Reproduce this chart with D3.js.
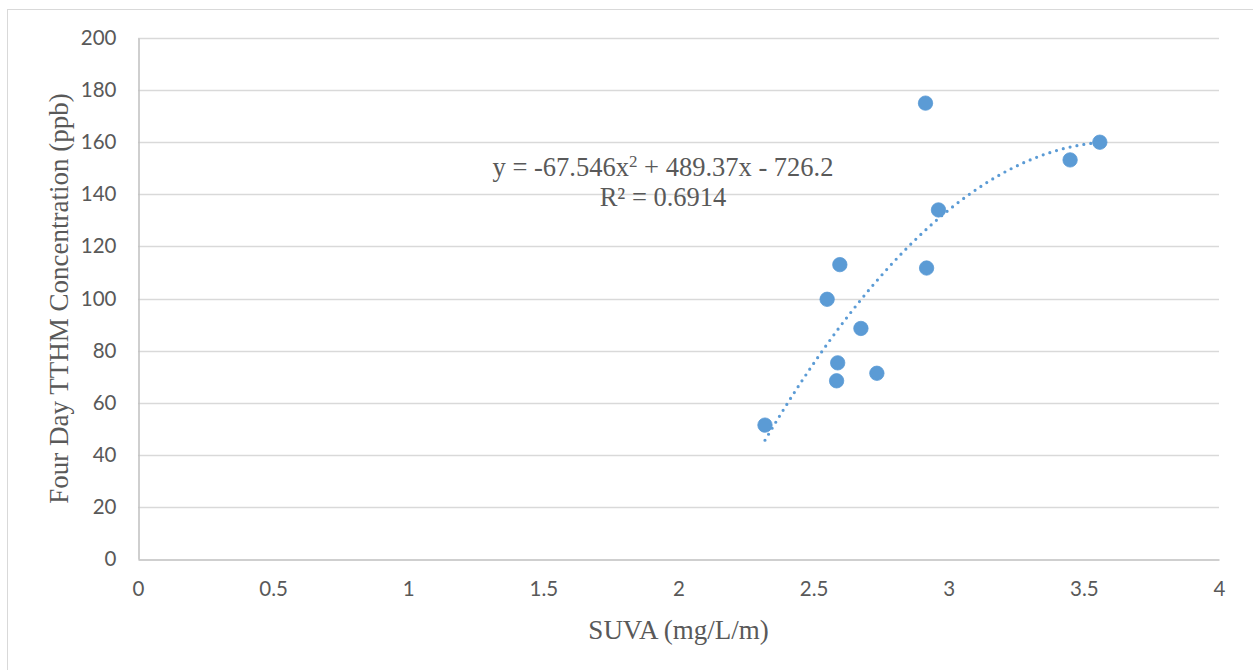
<!DOCTYPE html>
<html>
<head>
<meta charset="utf-8">
<script src="https://cdn.jsdelivr.net/npm/d3@7"></script>
<style>
  html, body { margin: 0; padding: 0; background: #fff; }
</style>
</head>
<body>
<div id="chart"></div>
<script>
    // SUVA vs four day TTHM
    const suva = [2.32, 2.55, 2.597, 2.918, 2.675, 2.589, 2.585, 2.734, 2.914, 3.559, 3.449, 2.962];
    const tthm = [51.4, 99.7, 113.0, 111.7, 88.5, 75.3, 68.4, 71.3, 175.0, 160.0, 153.2, 134.0];
    const xTicks = [0, 0.5, 1, 1.5, 2, 2.5, 3, 3.5, 4];
    const yTicks = [0, 20, 40, 60, 80, 100, 120, 140, 160, 180, 200];
    const fitCoef = [-67.546, 489.37, -726.2]; // a, b, c
    const fitLabel = ["y = -67.546x", " + 489.37x - 726.2"];
    const r2Label = "R² = 0.6914";

    const width = 1253, height = 670;
    const margin = { left: 138, top: 38, right: 1253 - 1219, bottom: 670 - 559 };
    const serif = "'Liberation Serif', 'Times New Roman', serif";

    const svg = d3.select("#chart")
        .append("svg")
        .attr("width", width)
        .attr("height", height);

    // chart border (right/bottom run off the picture)
    svg.append("rect")
        .attr("x", 7.5).attr("y", 9.5)
        .attr("width", 1260).attr("height", 700)
        .attr("fill", "none")
        .attr("stroke", "#d9d9d9");

    const x = d3.scaleLinear().domain([0, 4]).range([margin.left, width - margin.right]);
    const y = d3.scaleLinear().domain([0, 200]).range([height - margin.bottom, margin.top]);

    // horizontal gridlines
    svg.append("g")
        .selectAll("line")
        .data(yTicks.filter(d => d > 0))
        .enter().append("line")
        .attr("x1", x(0)).attr("x2", x(4))
        .attr("y1", d => Math.round(y(d)) + 0.5)
        .attr("y2", d => Math.round(y(d)) + 0.5)
        .attr("stroke", "#d9d9d9")
        .attr("stroke-width", 1.5);

    // axes
    const xAxis = svg.append("g")
        .attr("transform", `translate(0,${Math.round(y(0)) + 0.5})`)
        .call(d3.axisBottom(x).tickValues(xTicks).tickSize(0).tickPadding(22).tickFormat(d3.format("")));
    const yAxis = svg.append("g")
        .attr("transform", `translate(${Math.round(x(0)) + 0.5},0)`)
        .call(d3.axisLeft(y).tickValues(yTicks).tickSize(0).tickPadding(22));

    [xAxis, yAxis].forEach(g => {
        g.select(".domain").attr("stroke", "#bfbfbf").attr("stroke-width", 1.5);
        g.selectAll("text")
            .attr("fill", "#595959")
            .style("font-family", "Lato, 'Open Sans', sans-serif")
            .style("font-size", "20.5px");
    });

    // quadratic trendline, dotted
    const fit = v => fitCoef[0] * v * v + fitCoef[1] * v + fitCoef[2];
    const xs = d3.range(d3.min(suva), d3.max(suva) + 0.001, 0.01);
    svg.append("path")
        .datum(xs)
        .attr("d", d3.line().x(d => x(d)).y(d => y(fit(d))))
        .attr("fill", "none")
        .attr("stroke", "#5b9bd5")
        .attr("stroke-width", 3.2)
        .attr("stroke-linecap", "round")
        .attr("stroke-dasharray", "0 7");

    // points
    svg.append("g")
        .selectAll("circle")
        .data(suva.map((d, i) => [d, tthm[i]]))
        .enter().append("circle")
        .attr("cx", d => x(d[0]))
        .attr("cy", d => y(d[1]))
        .attr("r", 7.2)
        .attr("fill", "#5b9bd5")
        .attr("stroke", "#5b9bd5")
        .attr("stroke-width", 0.8);

    // trendline label
    const lbl = svg.append("text")
        .attr("x", 663)
        .attr("y", 176)
        .attr("text-anchor", "middle")
        .attr("fill", "#595959")
        .style("font-family", serif)
        .style("font-size", "26.5px");
    lbl.append("tspan").text(fitLabel[0]);
    lbl.append("tspan").attr("dy", -9).style("font-size", "17px").text("2");
    lbl.append("tspan").attr("dy", 9).text(fitLabel[1]);

    svg.append("text")
        .attr("x", 663)
        .attr("y", 206)
        .attr("text-anchor", "middle")
        .attr("fill", "#595959")
        .style("font-family", serif)
        .style("font-size", "26.5px")
        .text(r2Label);

    // axis titles
    svg.append("text")
        .attr("x", (x(0) + x(4)) / 2)
        .attr("y", 639)
        .attr("text-anchor", "middle")
        .attr("fill", "#595959")
        .style("font-family", serif)
        .style("font-size", "27px")
        .text("SUVA (mg/L/m)");

    svg.append("text")
        .attr("transform", `translate(68,${(y(0) + y(200)) / 2}) rotate(-90)`)
        .attr("text-anchor", "middle")
        .attr("fill", "#595959")
        .style("font-family", serif)
        .style("font-size", "27px")
        .text("Four Day TTHM Concentration (ppb)");
</script>
</body>
</html>
